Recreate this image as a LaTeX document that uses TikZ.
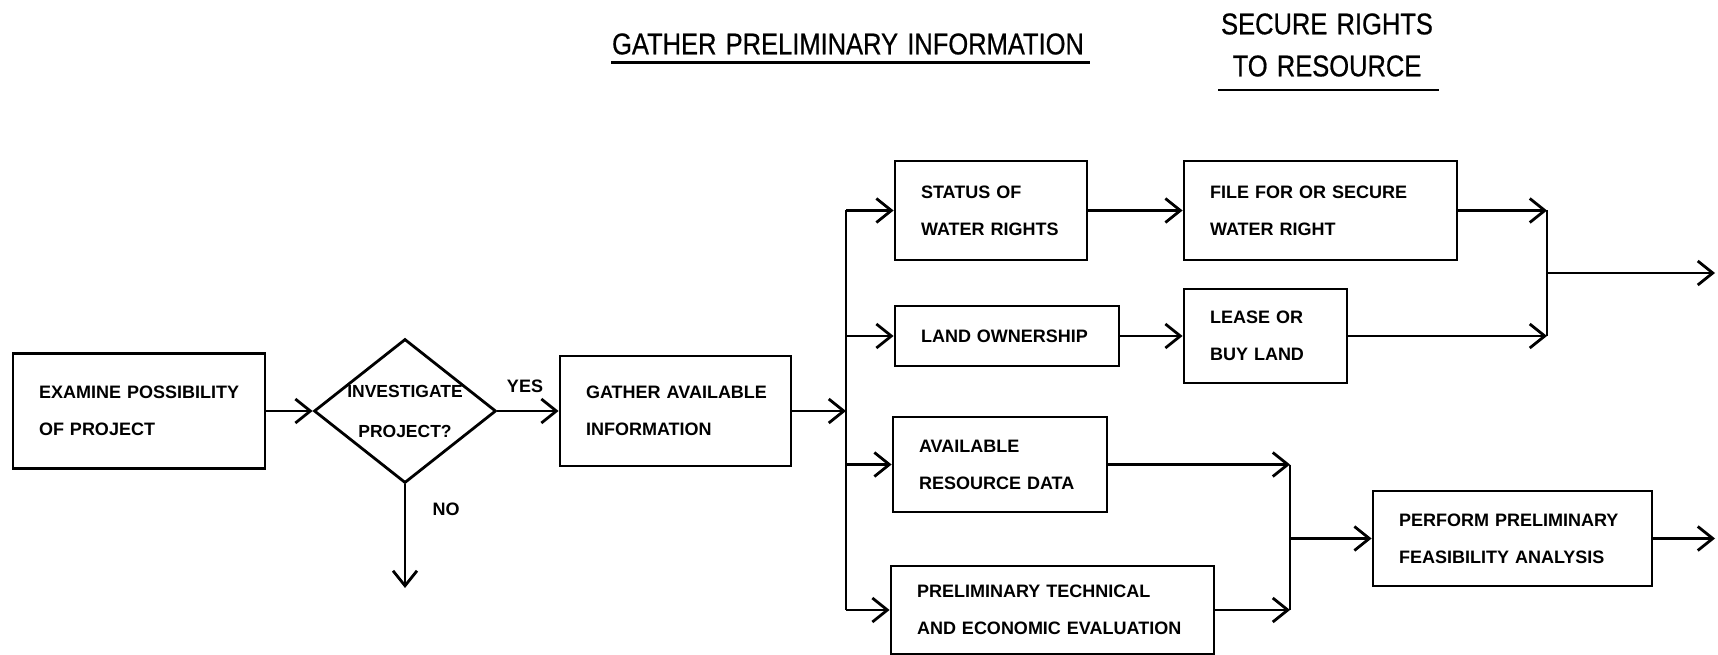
\documentclass[tikz,border=0pt]{standalone}
\usepackage{fontspec}
\setmainfont{Liberation Sans}
\newfontfamily\boxfont{Liberation Sans}[WordSpace=1.6]
\newfontfamily\titlefont{Liberation Sans}[FakeStretch=0.85,WordSpace=1.3,FakeBold=0.6]
\usetikzlibrary{arrows.meta,shapes.geometric}
\tikzset{
  line/.style={line width=2.8pt},
  arr/.style={line, -{Straight Barb[length=15pt,width=24pt,line width=2.8pt]}},
  box/.style={draw, line width=2.8pt, inner xsep=26pt, inner ysep=0pt, align=left,
    font=\boxfont\bfseries\fontsize{18}{37}\selectfont},
  decision/.style={draw, shape=diamond, line width=2.8pt, inner sep=0pt, aspect=1.264,
    minimum width=182pt, minimum height=144pt, align=center,
    font=\boxfont\bfseries\fontsize{17.5}{40}\selectfont},
  lbl/.style={inner sep=0pt, font=\boxfont\bfseries\fontsize{18}{20}\selectfont},
  ttl/.style={inner sep=0pt, align=center, font=\titlefont\fontsize{30}{42}\selectfont},
  uline/.style={line width=2.8pt}
}
\begin{document}
\begin{tikzpicture}[x=1pt,y=-1pt]
\useasboundingbox (0,0) rectangle (1718,655);

% titles
\node[ttl] (title1) at (848,44) {GATHER PRELIMINARY INFORMATION};
\draw[uline] (611,62.5) -- (1090,62.5);
\node[ttl] (title2) at (1327,45) {SECURE RIGHTS\\TO RESOURCE};
\draw[uline] (1218,90) -- (1439,90);

% boxes
\node[box, text width=200pt, minimum height=115pt] (examine) at (139,411)
  {\mbox{EXAMINE POSSIBILITY}\\\mbox{OF PROJECT}};
\node[decision] (dia) at (405,411) {INVESTIGATE\\PROJECT?};
\node[lbl] (yes) at (525,386) {YES};
\node[lbl] (no) at (446,509) {NO};
\node[box, text width=179pt, minimum height=110pt] (gather) at (675.5,411)
  {\mbox{GATHER AVAILABLE}\\\mbox{INFORMATION}};
\node[box, text width=140pt, minimum height=99pt] (status) at (991,210.5)
  {\mbox{STATUS OF}\\\mbox{WATER RIGHTS}};
\node[box, text width=172pt, minimum height=60pt] (land) at (1007,336)
  {\mbox{LAND OWNERSHIP}};
\node[box, text width=162pt, minimum height=95pt] (avail) at (1000,464.5)
  {\mbox{AVAILABLE}\\\mbox{RESOURCE DATA}};
\node[box, text width=271pt, minimum height=88pt] (prelim) at (1052.5,610)
  {\mbox{PRELIMINARY TECHNICAL}\\\mbox{AND ECONOMIC EVALUATION}};
\node[box, text width=221pt, minimum height=99pt] (file) at (1320.5,210.5)
  {\mbox{FILE FOR OR SECURE}\\\mbox{WATER RIGHT}};
\node[box, text width=111pt, minimum height=94pt] (lease) at (1265.5,336)
  {\mbox{LEASE OR}\\\mbox{BUY LAND}};
\node[box, text width=227pt, minimum height=95pt] (perform) at (1512.5,538.5)
  {\mbox{PERFORM PRELIMINARY}\\\mbox{FEASIBILITY ANALYSIS}};

% helper coordinates
\coordinate (noend) at (405,588);
\coordinate (ttop) at (846,210.5);
\coordinate (tbot) at (846,610);
\coordinate (m1top) at (1547,210.5);
\coordinate (m1bot) at (1547,336);
\coordinate (out1) at (1715,273);
\coordinate (m2top) at (1290,464.5);
\coordinate (m2bot) at (1290,610);
\coordinate (out2) at (1715,538.5);

% connectors
\draw[arr] (examine.east) -- (dia.west);
\draw[arr] (dia.east) -- (gather.west);
\draw[arr] (dia.south) -- (noend);
\draw[line] (ttop) -- (tbot);
\draw[arr] (gather.east) -- (gather.east -| ttop);
\draw[arr] (ttop) -- (status.west);
\draw[arr] (land.west -| ttop) -- (land.west);
\draw[arr] (avail.west -| ttop) -- (avail.west);
\draw[arr] (tbot) -- (prelim.west);
\draw[arr] (status.east) -- (file.west);
\draw[arr] (land.east) -- (lease.west);
\draw[line] (m1top) -- (m1bot);
\draw[arr] (file.east) -- (m1top);
\draw[arr] (lease.east) -- (m1bot);
\draw[arr] (out1 -| m1top) -- (out1);
\draw[line] (m2top) -- (m2bot);
\draw[arr] (avail.east) -- (m2top);
\draw[arr] (prelim.east) -- (m2bot);
\draw[arr] (perform.west -| m2top) -- (perform.west);
\draw[arr] (perform.east) -- (out2);
\end{tikzpicture}
\end{document}
